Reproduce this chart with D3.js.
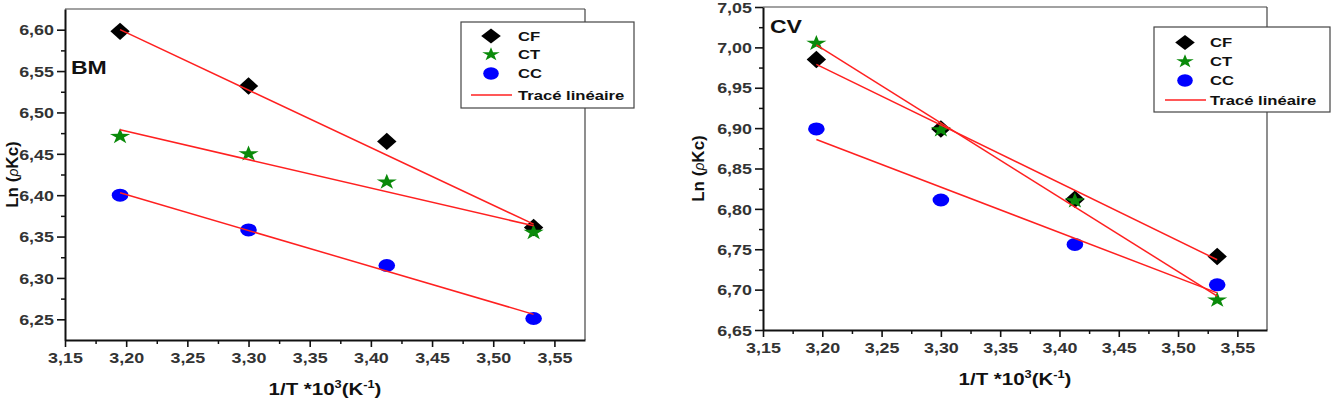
<!DOCTYPE html>
<html>
<head>
<meta charset="utf-8">
<script src="https://cdn.jsdelivr.net/npm/d3@7"></script>
<style>
  html, body { margin: 0; padding: 0; background: #fff; }
  svg { display: block; font-family: "Liberation Sans", Arial, sans-serif; }
</style>
</head>
<body>
<svg id="chart" width="1336" height="406"></svg>
<script>
// ---------------- DATA ----------------
const xValues = [3.195, 3.300, 3.413, 3.533];
const fitX = [3.195, 3.533];

const seriesNames = ["CF", "CT", "CC"];
const fitLabel = "Tracé linéaire";

// Panel BM
const bmCF = [6.598, 6.532, 6.465, 6.361];
const bmCT = [6.471, 6.450, 6.416, 6.355];
const bmCC = [6.400, 6.358, 6.315, 6.251];
const bmFitCF = [6.600, 6.365];
const bmFitCT = [6.479, 6.363];
const bmFitCC = [6.403, 6.256];

// Panel CV
const cvCF = [6.985, 6.899, 6.812, 6.741];
const cvCT = [7.005, 6.898, 6.810, 6.687];
const cvCC = [6.899, 6.811, 6.756, 6.706];
const cvFitCF = [6.979, 6.737];
const cvFitCT = [7.003, 6.692];
const cvFitCC = [6.886, 6.696];

// Ticks
const xTicks = [3.15, 3.20, 3.25, 3.30, 3.35, 3.40, 3.45, 3.50, 3.55];
const bmYTicks = [6.25, 6.30, 6.35, 6.40, 6.45, 6.50, 6.55, 6.60];
const cvYTicks = [6.65, 6.70, 6.75, 6.80, 6.85, 6.90, 6.95, 7.00, 7.05];

// ---------------- DRAWING ----------------
const S = 1.28; // horizontal stretch of the original picture
const svg = d3.select("#chart");
const fmt = d => d3.format(".2f")(d).replace(".", ",");
const colors = { CF: "#000000", CT: "#0a8a0a", CC: "#0000ff", fit: "#ff2020" };

function starPath(R) {
  const r = R * 0.382;
  let p = "";
  for (let i = 0; i < 10; i++) {
    const rad = i % 2 === 0 ? R : r;
    const a = -Math.PI / 2 + i * Math.PI / 5;
    p += (i === 0 ? "M" : "L") + (rad * Math.cos(a)).toFixed(2) + "," + (rad * Math.sin(a)).toFixed(2);
  }
  return p + "Z";
}
function diamondPath(hw, hh) {
  return `M0,${-hh}L${hw},0L0,${hh}L${-hw},0Z`;
}
function drawMarker(g, type, x, y, big) {
  if (type === "CF") {
    g.append("path").attr("d", big ? diamondPath(9.7, 8.7) : diamondPath(9.8, 7.6))
      .attr("transform", `translate(${x},${y})`).attr("fill", colors.CF);
  } else if (type === "CT") {
    g.append("path").attr("d", starPath(big ? 8.3 : 7.2))
      .attr("transform", `translate(${x},${y}) scale(${S},1)`).attr("fill", colors.CT);
  } else {
    g.append("ellipse").attr("cx", x).attr("cy", y)
      .attr("rx", big ? 8.3 : 7.8).attr("ry", big ? 6.5 : 6.2).attr("fill", colors.CC);
  }
}
function sText(g, x, y, str, size, anchor, weight) {
  return g.append("text")
    .attr("transform", `translate(${x},${y}) scale(${S},1)`)
    .attr("text-anchor", anchor || "start")
    .attr("dominant-baseline", "central")
    .attr("font-size", size)
    .attr("font-weight", weight || "bold")
    .attr("fill", "#111")
    .text(str);
}

function panel(cfg) {
  const g = svg.append("g");
  const x = d3.scaleLinear().domain([3.15, 3.575]).range([cfg.left, cfg.right]);
  const y = d3.scaleLinear().domain(cfg.ydom).range([cfg.bottom, cfg.top]);

  // frame top & right
  g.append("line").attr("x1", cfg.left).attr("x2", cfg.right).attr("y1", cfg.top).attr("y2", cfg.top)
    .attr("stroke", "#444").attr("stroke-width", 1.2);
  g.append("line").attr("x1", cfg.right).attr("x2", cfg.right).attr("y1", cfg.top).attr("y2", cfg.bottom)
    .attr("stroke", "#444").attr("stroke-width", 1.2);

  // minor ticks
  const xMinor = xTicks.slice(0, -1).map(v => v + 0.025);
  const yMinor = cfg.yticks.map(v => v - 0.025).filter(v => v > cfg.ydom[0]);
  if (cfg.yticks[cfg.yticks.length - 1] + 0.025 < cfg.ydom[1]) yMinor.push(cfg.yticks[cfg.yticks.length - 1] + 0.025);
  g.append("g").attr("transform", `translate(0,${cfg.bottom})`)
    .call(d3.axisBottom(x).tickValues(xMinor).tickSize(4).tickSizeOuter(0).tickFormat(""))
    .call(a => a.select(".domain").remove())
    .call(a => a.selectAll("line").attr("stroke", "#111").attr("stroke-width", 1.5));
  g.append("g").attr("transform", `translate(${cfg.left},0)`)
    .call(d3.axisLeft(y).tickValues(yMinor).tickSize(4).tickSizeOuter(0).tickFormat(""))
    .call(a => a.select(".domain").remove())
    .call(a => a.selectAll("line").attr("stroke", "#111").attr("stroke-width", 1.5));

  // major axes
  const xa = g.append("g").attr("transform", `translate(0,${cfg.bottom})`)
    .call(d3.axisBottom(x).tickValues(xTicks).tickSize(7).tickSizeOuter(0).tickFormat(fmt).tickPadding(5));
  xa.select(".domain").attr("stroke", "#111").attr("stroke-width", 2);
  xa.selectAll("line").attr("stroke", "#111").attr("stroke-width", 1.6);
  xa.selectAll("text").attr("font-size", 14).attr("font-weight", "bold").attr("fill", "#333")
    .attr("font-family", "Liberation Sans, Arial, sans-serif")
    .attr("transform", `scale(${S},1)`).attr("y", 18).attr("dy", null).attr("dominant-baseline", "central");

  const ya = g.append("g").attr("transform", `translate(${cfg.left},0)`)
    .call(d3.axisLeft(y).tickValues(cfg.yticks).tickSize(8).tickSizeOuter(0).tickFormat(fmt));
  ya.select(".domain").attr("stroke", "#111").attr("stroke-width", 2);
  ya.selectAll("line").attr("stroke", "#111").attr("stroke-width", 1.6);
  ya.selectAll("text").attr("font-size", 14).attr("font-weight", "bold").attr("fill", "#333")
    .attr("font-family", "Liberation Sans, Arial, sans-serif")
    .attr("x", -11 / S).attr("dy", null).attr("dominant-baseline", "central")
    .attr("transform", `scale(${S},1)`);

  // markers
  const sets = [["CF", cfg.cf], ["CT", cfg.ct], ["CC", cfg.cc]];
  const mg = g.append("g");
  sets.forEach(([name, vals]) => {
    vals.forEach((v, i) => drawMarker(mg, name, x(xValues[i]), y(v), true));
  });

  // fit lines
  const line = d3.line().x(d => x(d[0])).y(d => y(d[1]));
  [cfg.fitCF, cfg.fitCT, cfg.fitCC].forEach(f => {
    g.append("path").attr("d", line(fitX.map((xv, i) => [xv, f[i]])))
      .attr("fill", "none").attr("stroke", colors.fit).attr("stroke-width", 1.5);
  });

  // panel title
  g.append("text").attr("transform", `translate(${cfg.titleX},${cfg.titleY}) scale(${S},1)`)
    .attr("font-size", 18).attr("font-weight", "bold").attr("fill", "#111").text(cfg.title);

  // x axis title
  const xt = g.append("text")
    .attr("transform", `translate(${(cfg.left + cfg.right) / 2},${cfg.bottom + 55}) scale(${S},1)`)
    .attr("text-anchor", "middle").attr("font-size", 16).attr("font-weight", "bold").attr("fill", "#111");
  xt.append("tspan").text("1/T *10");
  xt.append("tspan").attr("font-size", 10).attr("dy", -7).text("3");
  xt.append("tspan").attr("dy", 7).text("(K");
  xt.append("tspan").attr("font-size", 10).attr("dy", -7).text("-1");
  xt.append("tspan").attr("dy", 7).text(")");

  // y axis title
  const yt = g.append("text")
    .attr("transform", `translate(${cfg.yLabelX},${(cfg.top + cfg.bottom) / 2}) rotate(-90)`)
    .attr("text-anchor", "middle").attr("font-size", cfg.yLabelSize).attr("font-weight", "bold").attr("fill", "#111");
  yt.append("tspan").text("Ln (");
  yt.append("tspan").attr("font-style", "italic").attr("font-weight", "normal").attr("font-size", cfg.yLabelSize * 0.82).text("ρ");
  yt.append("tspan").text("Kc)");

  // legend
  const L = cfg.legend;
  const lg = g.append("g");
  lg.append("rect").attr("x", L.x).attr("y", L.y).attr("width", L.w).attr("height", L.h)
    .attr("fill", "#fff").attr("stroke", "#444").attr("stroke-width", 1.2);
  seriesNames.forEach((n, i) => {
    drawMarker(lg, n, L.symX, L.rows[i], false);
    sText(lg, L.textX, L.rows[i], n, 13, "start");
  });
  lg.append("line").attr("x1", L.lineX1).attr("x2", L.lineX2).attr("y1", L.rows[3]).attr("y2", L.rows[3])
    .attr("stroke", colors.fit).attr("stroke-width", 1.5);
  sText(lg, L.textX, L.rows[3], fitLabel, 13, "start");
}

panel({
  left: 65, right: 585, top: 9, bottom: 340, ydom: [6.225, 6.625], yticks: bmYTicks,
  cf: bmCF, ct: bmCT, cc: bmCC, fitCF: bmFitCF, fitCT: bmFitCT, fitCC: bmFitCC,
  title: "BM", titleX: 71, titleY: 74, yLabelX: 18, yLabelSize: 17,
  legend: { x: 461, y: 22, w: 173, h: 86, symX: 491, textX: 518, lineX1: 471, lineX2: 512, rows: [36, 54.5, 73.5, 95] }
});
panel({
  left: 763, right: 1267, top: 7, bottom: 330, ydom: [6.65, 7.05], yticks: cvYTicks,
  cf: cvCF, ct: cvCT, cc: cvCC, fitCF: cvFitCF, fitCT: cvFitCT, fitCC: cvFitCC,
  title: "CV", titleX: 770, titleY: 33, yLabelX: 704, yLabelSize: 17,
  legend: { x: 1154, y: 27, w: 176, h: 85, symX: 1185, textX: 1210, lineX1: 1165, lineX2: 1206, rows: [42.5, 61.5, 80.5, 100] }
});
</script>
</body>
</html>
